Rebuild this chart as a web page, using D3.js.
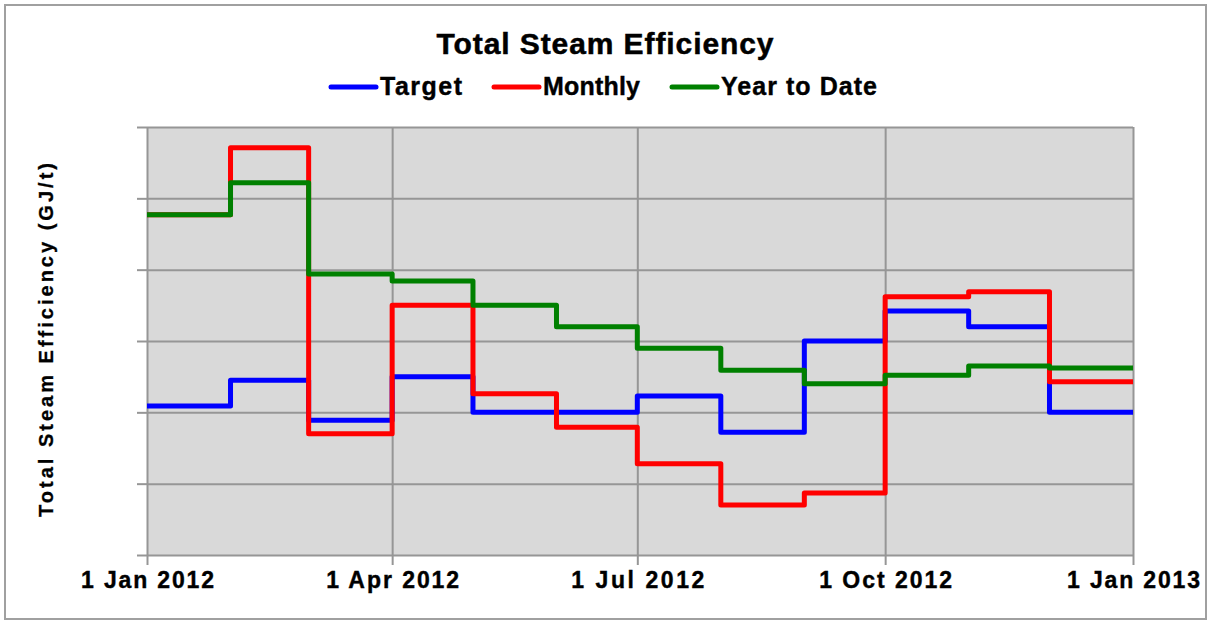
<!DOCTYPE html>
<html>
<head>
<meta charset="utf-8">
<script src="https://cdn.jsdelivr.net/npm/d3@7"></script>
<style>
  html, body { margin: 0; padding: 0; background: #fff; }
  text { font-family: "Liberation Sans", Arial, sans-serif; font-weight: bold; fill: #000; }
</style>
</head>
<body>
<script>
// monthly values (no y tick labels in the source; one grid step = 1 unit)
const months = ["2012-01-01", "2012-02-01", "2012-03-01", "2012-04-01", "2012-05-01", "2012-06-01",
  "2012-07-01", "2012-08-01", "2012-09-01", "2012-10-01", "2012-11-01", "2012-12-01"];
const endDate = "2013-01-01";
const target  = [2.09, 2.45, 1.89, 2.50, 2.00, 2.00, 2.23, 1.72, 3.00, 3.42, 3.20, 2.00];
const monthly = [4.77, 5.71, 1.70, 3.50, 2.26, 1.79, 1.28, 0.70, 0.87, 3.62, 3.69, 2.43];
const ytd     = [4.77, 5.22, 3.94, 3.84, 3.50, 3.20, 2.90, 2.59, 2.40, 2.52, 2.65, 2.62];
const xTicks = ["2012-01-01", "2012-04-01", "2012-07-01", "2012-10-01", "2013-01-01"];
const yTicks = [0, 1, 2, 3, 4, 5, 6];

const series = [
  { name: "Target", values: target, color: "#0000ff" },
  { name: "Monthly", values: monthly, color: "#ff0000" },
  { name: "Year to Date", values: ytd, color: "#008000" }
];

const width = 1208;
const height = 621;
const marginTop = 127;
const marginRight = 75;
const marginBottom = 66;
const marginLeft = 147;

const parse = d3.utcParse("%Y-%m-%d");
const fmt = d3.utcFormat("%-d %b %Y");

const x = d3.scaleUtc()
  .domain([parse(months[0]), parse(endDate)])
  .range([marginLeft, width - marginRight]);

const y = d3.scaleLinear()
  .domain([0, 6])
  .range([height - marginBottom, marginTop]);

const svg = d3.create("svg")
  .attr("width", width)
  .attr("height", height);

// chart border
svg.append("rect")
  .attr("x", 5).attr("y", 5)
  .attr("width", width - 7).attr("height", height - 7)
  .attr("fill", "#fff")
  .attr("stroke", "#a0a0a0")
  .attr("stroke-width", 2);

// plot area
svg.append("rect")
  .attr("x", marginLeft).attr("y", marginTop)
  .attr("width", width - marginRight - marginLeft)
  .attr("height", height - marginBottom - marginTop)
  .attr("fill", "#d9d9d9");

// horizontal grid + left ticks
svg.append("g")
  .attr("transform", `translate(${marginLeft},0)`)
  .call(d3.axisLeft(y).tickValues(yTicks).tickFormat("")
    .tickSize(-(width - marginLeft - marginRight)).tickSizeOuter(0))
  .call(g => g.select(".domain").remove())
  .call(g => g.selectAll(".tick line").attr("stroke", "#969696").attr("stroke-width", 2));
svg.append("g")
  .attr("transform", `translate(${marginLeft},0)`)
  .call(d3.axisLeft(y).tickValues(yTicks).tickFormat("").tickSize(10).tickSizeOuter(0))
  .call(g => g.select(".domain").remove())
  .call(g => g.selectAll(".tick line").attr("stroke", "#969696").attr("stroke-width", 2));

// vertical grid + bottom ticks/labels
svg.append("g")
  .attr("transform", `translate(0,${height - marginBottom})`)
  .call(d3.axisBottom(x).tickValues(xTicks.map(parse)).tickFormat("")
    .tickSize(-(height - marginTop - marginBottom)).tickSizeOuter(0))
  .call(g => g.select(".domain").remove())
  .call(g => g.selectAll(".tick line").attr("stroke", "#969696").attr("stroke-width", 2));
svg.append("g")
  .attr("transform", `translate(0,${height - marginBottom})`)
  .call(d3.axisBottom(x).tickValues(xTicks.map(parse)).tickFormat(fmt).tickSize(10).tickSizeOuter(0))
  .call(g => g.select(".domain").remove())
  .call(g => g.selectAll(".tick line").attr("stroke", "#969696").attr("stroke-width", 2))
  .call(g => g.selectAll(".tick text")
    .attr("y", 33)
    .attr("dy", 0)
    .attr("font-size", 23)
    .attr("font-family", "'Liberation Sans', Arial, sans-serif")
    .attr("font-weight", "bold")
    .attr("fill", "#000")
    .attr("stroke", "#000")
    .attr("stroke-width", 0.4)
    .attr("textLength", 133)
    .attr("lengthAdjust", "spacing"));

// step lines
const line = d3.line()
  .x(d => x(d.date))
  .y(d => y(d.value))
  .curve(d3.curveStepAfter);

series.forEach(s => {
  const pts = months.map((m, i) => ({ date: parse(m), value: s.values[i] }));
  pts.push({ date: parse(endDate), value: s.values[s.values.length - 1] });
  svg.append("path")
    .attr("fill", "none")
    .attr("stroke", s.color)
    .attr("stroke-width", 5)
    .attr("stroke-linejoin", "round")
    .attr("d", line(pts));
});

// title
svg.append("text")
  .attr("x", 605).attr("y", 54)
  .attr("text-anchor", "middle")
  .attr("font-size", 30)
  .attr("stroke", "#000")
  .attr("stroke-width", 0.5)
  .attr("textLength", 337)
  .attr("lengthAdjust", "spacing")
  .text("Total Steam Efficiency");

// legend
const legendX = [331, 494, 672];
const legendW = [82, 97, 156];
const legend = svg.append("g");
series.forEach((s, i) => {
  legend.append("line")
    .attr("x1", legendX[i]).attr("x2", legendX[i] + 45)
    .attr("y1", 87).attr("y2", 87)
    .attr("stroke", s.color)
    .attr("stroke-width", 5)
    .attr("stroke-linecap", "round");
  legend.append("text")
    .attr("x", legendX[i] + 49).attr("y", 95)
    .attr("font-size", 25)
    .attr("stroke", "#000")
    .attr("stroke-width", 0.4)
    .attr("textLength", legendW[i])
    .attr("lengthAdjust", "spacing")
    .text(s.name);
});

// y axis title
svg.append("text")
  .attr("transform", `translate(53,${340}) rotate(-90)`)
  .attr("text-anchor", "middle")
  .attr("font-size", 20)
  .attr("stroke", "#000")
  .attr("stroke-width", 0.3)
  .attr("textLength", 354)
  .attr("lengthAdjust", "spacing")
  .text("Total Steam Efficiency (GJ/t)");

document.body.appendChild(svg.node());
</script>
</body>
</html>
